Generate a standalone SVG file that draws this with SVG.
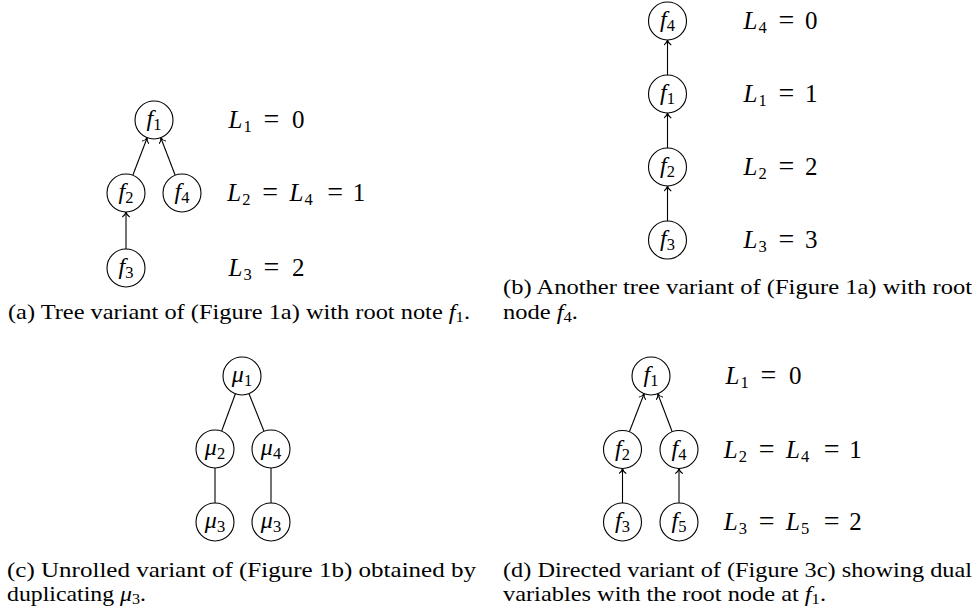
<svg xmlns="http://www.w3.org/2000/svg" width="975" height="611" viewBox="0 0 975 611">
<style>
text{font-family:"Liberation Serif","Times New Roman",serif;fill:#000}
.nd{fill:#fff;stroke:#000;stroke-width:1.1}
.ed{stroke:#000;stroke-width:1.1;fill:none}
.ar{marker-end:url(#tip)}
.nl{font-size:24px}
.m{font-size:25px}
.it{font-style:italic}
.sb{font-size:16.5px}
.eq{font-size:28px}
.cap{font-size:22px}
.cs{font-size:15px}
</style>
<defs>
<marker id="tip" markerUnits="userSpaceOnUse" viewBox="-6 -4 7 8" refX="0" refY="0" markerWidth="7" markerHeight="8" orient="auto">
<path d="M -4.8 -3.4 C -3.6 -1.4 -1.7 -0.4 0 0 C -1.7 0.4 -3.6 1.4 -4.8 3.4" fill="none" stroke="#000" stroke-width="1.1" stroke-linecap="round"/>
</marker>
</defs>

<g id="connectors">
<line class="ed ar" x1="132.8" y1="175.3" x2="147.2" y2="137.7"/>
<line class="ed ar" x1="175.2" y1="175.3" x2="160.8" y2="137.7"/>
<line class="ed ar" x1="126" y1="249" x2="126" y2="212"/>
<line class="ed ar" x1="667.5" y1="75" x2="667.5" y2="40"/>
<line class="ed ar" x1="667.5" y1="148" x2="667.5" y2="113"/>
<line class="ed ar" x1="667.5" y1="221" x2="667.5" y2="186"/>
<line class="ed" x1="235.4" y1="393.8" x2="221.6" y2="431.2"/>
<line class="ed" x1="249" y1="393.7" x2="264" y2="431.3"/>
<line class="ed" x1="215" y1="468" x2="215" y2="503"/>
<line class="ed" x1="271" y1="468" x2="271" y2="503"/>
<line class="ed ar" x1="629.4" y1="431.8" x2="644.1" y2="393.7"/>
<line class="ed ar" x1="672.2" y1="431.7" x2="657.8" y2="393.8"/>
<line class="ed ar" x1="622.5" y1="503" x2="622.5" y2="468.5"/>
<line class="ed ar" x1="679" y1="503" x2="679" y2="468.5"/>
</g>

<!-- panel a -->
<g id="a-f1"><circle class="nd" cx="154" cy="120" r="19"/><text class="nl" x="154" y="126" text-anchor="middle"><tspan class="it">f</tspan><tspan class="sb" dy="4">1</tspan></text></g>
<g id="a-f2"><circle class="nd" cx="126" cy="193" r="19"/><text class="nl" x="126" y="199" text-anchor="middle"><tspan class="it">f</tspan><tspan class="sb" dy="4">2</tspan></text></g>
<g id="a-f4"><circle class="nd" cx="182" cy="193" r="19"/><text class="nl" x="182" y="199" text-anchor="middle"><tspan class="it">f</tspan><tspan class="sb" dy="4">4</tspan></text></g>
<g id="a-f3"><circle class="nd" cx="126" cy="268" r="19"/><text class="nl" x="126" y="274" text-anchor="middle"><tspan class="it">f</tspan><tspan class="sb" dy="4">3</tspan></text></g>
<g id="a-labels">
<text class="m" y="128"><tspan x="228.5" class="it">L</tspan><tspan x="243.5" dy="4" class="sb">1</tspan><tspan x="263.5" dy="-4" class="eq">=</tspan><tspan x="292">0</tspan></text>
<text class="m" y="201"><tspan x="227.2" class="it">L</tspan><tspan x="242.2" dy="4" class="sb">2</tspan><tspan x="262.2" dy="-4" class="eq">=</tspan><tspan x="289.5" class="it">L</tspan><tspan x="304.5" dy="4" class="sb">4</tspan><tspan x="327.2" dy="-4" class="eq">=</tspan><tspan x="352.7">1</tspan></text>
<text class="m" y="276"><tspan x="228.5" class="it">L</tspan><tspan x="243.5" dy="4" class="sb">3</tspan><tspan x="263.5" dy="-4" class="eq">=</tspan><tspan x="292">2</tspan></text>
</g>

<!-- panel b -->
<g id="b-f4"><circle class="nd" cx="667.5" cy="21" r="19"/><text class="nl" x="667.5" y="27" text-anchor="middle"><tspan class="it">f</tspan><tspan class="sb" dy="4">4</tspan></text></g>
<g id="b-f1"><circle class="nd" cx="667.5" cy="94" r="19"/><text class="nl" x="667.5" y="100" text-anchor="middle"><tspan class="it">f</tspan><tspan class="sb" dy="4">1</tspan></text></g>
<g id="b-f2"><circle class="nd" cx="667.5" cy="167" r="19"/><text class="nl" x="667.5" y="173" text-anchor="middle"><tspan class="it">f</tspan><tspan class="sb" dy="4">2</tspan></text></g>
<g id="b-f3"><circle class="nd" cx="667.5" cy="240" r="19"/><text class="nl" x="667.5" y="246" text-anchor="middle"><tspan class="it">f</tspan><tspan class="sb" dy="4">3</tspan></text></g>
<g id="b-labels">
<text class="m" y="29"><tspan x="743.5" class="it">L</tspan><tspan x="758.5" dy="4" class="sb">4</tspan><tspan x="778.5" dy="-4" class="eq">=</tspan><tspan x="805">0</tspan></text>
<text class="m" y="102"><tspan x="743.5" class="it">L</tspan><tspan x="758.5" dy="4" class="sb">1</tspan><tspan x="778.5" dy="-4" class="eq">=</tspan><tspan x="805">1</tspan></text>
<text class="m" y="175"><tspan x="743.5" class="it">L</tspan><tspan x="758.5" dy="4" class="sb">2</tspan><tspan x="778.5" dy="-4" class="eq">=</tspan><tspan x="805">2</tspan></text>
<text class="m" y="248"><tspan x="743.5" class="it">L</tspan><tspan x="758.5" dy="4" class="sb">3</tspan><tspan x="778.5" dy="-4" class="eq">=</tspan><tspan x="805">3</tspan></text>
</g>

<!-- panel c -->
<g id="c-mu1"><circle class="nd" cx="242" cy="376" r="19"/><text class="nl" x="242" y="382" text-anchor="middle"><tspan class="it">μ</tspan><tspan class="sb" dy="4">1</tspan></text></g>
<g id="c-mu2"><circle class="nd" cx="215" cy="449" r="19"/><text class="nl" x="215" y="455" text-anchor="middle"><tspan class="it">μ</tspan><tspan class="sb" dy="4">2</tspan></text></g>
<g id="c-mu4"><circle class="nd" cx="271" cy="449" r="19"/><text class="nl" x="271" y="455" text-anchor="middle"><tspan class="it">μ</tspan><tspan class="sb" dy="4">4</tspan></text></g>
<g id="c-mu3a"><circle class="nd" cx="215" cy="522" r="19"/><text class="nl" x="215" y="528" text-anchor="middle"><tspan class="it">μ</tspan><tspan class="sb" dy="4">3</tspan></text></g>
<g id="c-mu3b"><circle class="nd" cx="271" cy="522" r="19"/><text class="nl" x="271" y="528" text-anchor="middle"><tspan class="it">μ</tspan><tspan class="sb" dy="4">3</tspan></text></g>

<!-- panel d -->
<g id="d-f1"><circle class="nd" cx="651" cy="376" r="19"/><text class="nl" x="651" y="382" text-anchor="middle"><tspan class="it">f</tspan><tspan class="sb" dy="4">1</tspan></text></g>
<g id="d-f2"><circle class="nd" cx="622.5" cy="449.5" r="19"/><text class="nl" x="622.5" y="455.5" text-anchor="middle"><tspan class="it">f</tspan><tspan class="sb" dy="4">2</tspan></text></g>
<g id="d-f4"><circle class="nd" cx="679" cy="449.5" r="19"/><text class="nl" x="679" y="455.5" text-anchor="middle"><tspan class="it">f</tspan><tspan class="sb" dy="4">4</tspan></text></g>
<g id="d-f3"><circle class="nd" cx="622.5" cy="522" r="19"/><text class="nl" x="622.5" y="528" text-anchor="middle"><tspan class="it">f</tspan><tspan class="sb" dy="4">3</tspan></text></g>
<g id="d-f5"><circle class="nd" cx="679" cy="522" r="19"/><text class="nl" x="679" y="528" text-anchor="middle"><tspan class="it">f</tspan><tspan class="sb" dy="4">5</tspan></text></g>
<g id="d-labels">
<text class="m" y="384"><tspan x="725.5" class="it">L</tspan><tspan x="740.5" dy="4" class="sb">1</tspan><tspan x="760.5" dy="-4" class="eq">=</tspan><tspan x="789">0</tspan></text>
<text class="m" y="457.5"><tspan x="723.8" class="it">L</tspan><tspan x="738.8" dy="4" class="sb">2</tspan><tspan x="758.8" dy="-4" class="eq">=</tspan><tspan x="786.1" class="it">L</tspan><tspan x="801.1" dy="4" class="sb">4</tspan><tspan x="823.8" dy="-4" class="eq">=</tspan><tspan x="849.3">1</tspan></text>
<text class="m" y="530"><tspan x="723.8" class="it">L</tspan><tspan x="738.8" dy="4" class="sb">3</tspan><tspan x="758.8" dy="-4" class="eq">=</tspan><tspan x="786.1" class="it">L</tspan><tspan x="801.1" dy="4" class="sb">5</tspan><tspan x="823.8" dy="-4" class="eq">=</tspan><tspan x="849.3">2</tspan></text>
</g>

<!-- captions -->
<g id="captions">
<text class="cap" x="8" y="319" textLength="462" lengthAdjust="spacingAndGlyphs">(a) Tree variant of (Figure 1a) with root note <tspan class="it">f</tspan><tspan class="cs" dy="3">1</tspan><tspan dy="-3">.</tspan></text>
<text class="cap" x="503" y="294" textLength="469" lengthAdjust="spacingAndGlyphs">(b) Another tree variant of (Figure 1a) with root</text>
<text class="cap" x="503" y="319" textLength="75" lengthAdjust="spacingAndGlyphs">node <tspan class="it">f</tspan><tspan class="cs" dy="3">4</tspan><tspan dy="-3">.</tspan></text>
<text class="cap" x="7" y="577" textLength="469" lengthAdjust="spacingAndGlyphs">(c) Unrolled variant of (Figure 1b) obtained by</text>
<text class="cap" x="7" y="601" textLength="139" lengthAdjust="spacingAndGlyphs">duplicating <tspan class="it">μ</tspan><tspan class="cs" dy="3">3</tspan><tspan dy="-3">.</tspan></text>
<text class="cap" x="503" y="577" textLength="469" lengthAdjust="spacingAndGlyphs">(d) Directed variant of (Figure 3c) showing dual</text>
<text class="cap" x="503" y="601" textLength="323" lengthAdjust="spacingAndGlyphs">variables with the root node at <tspan class="it">f</tspan><tspan class="cs" dy="3">1</tspan><tspan dy="-3">.</tspan></text>
</g>
</svg>
